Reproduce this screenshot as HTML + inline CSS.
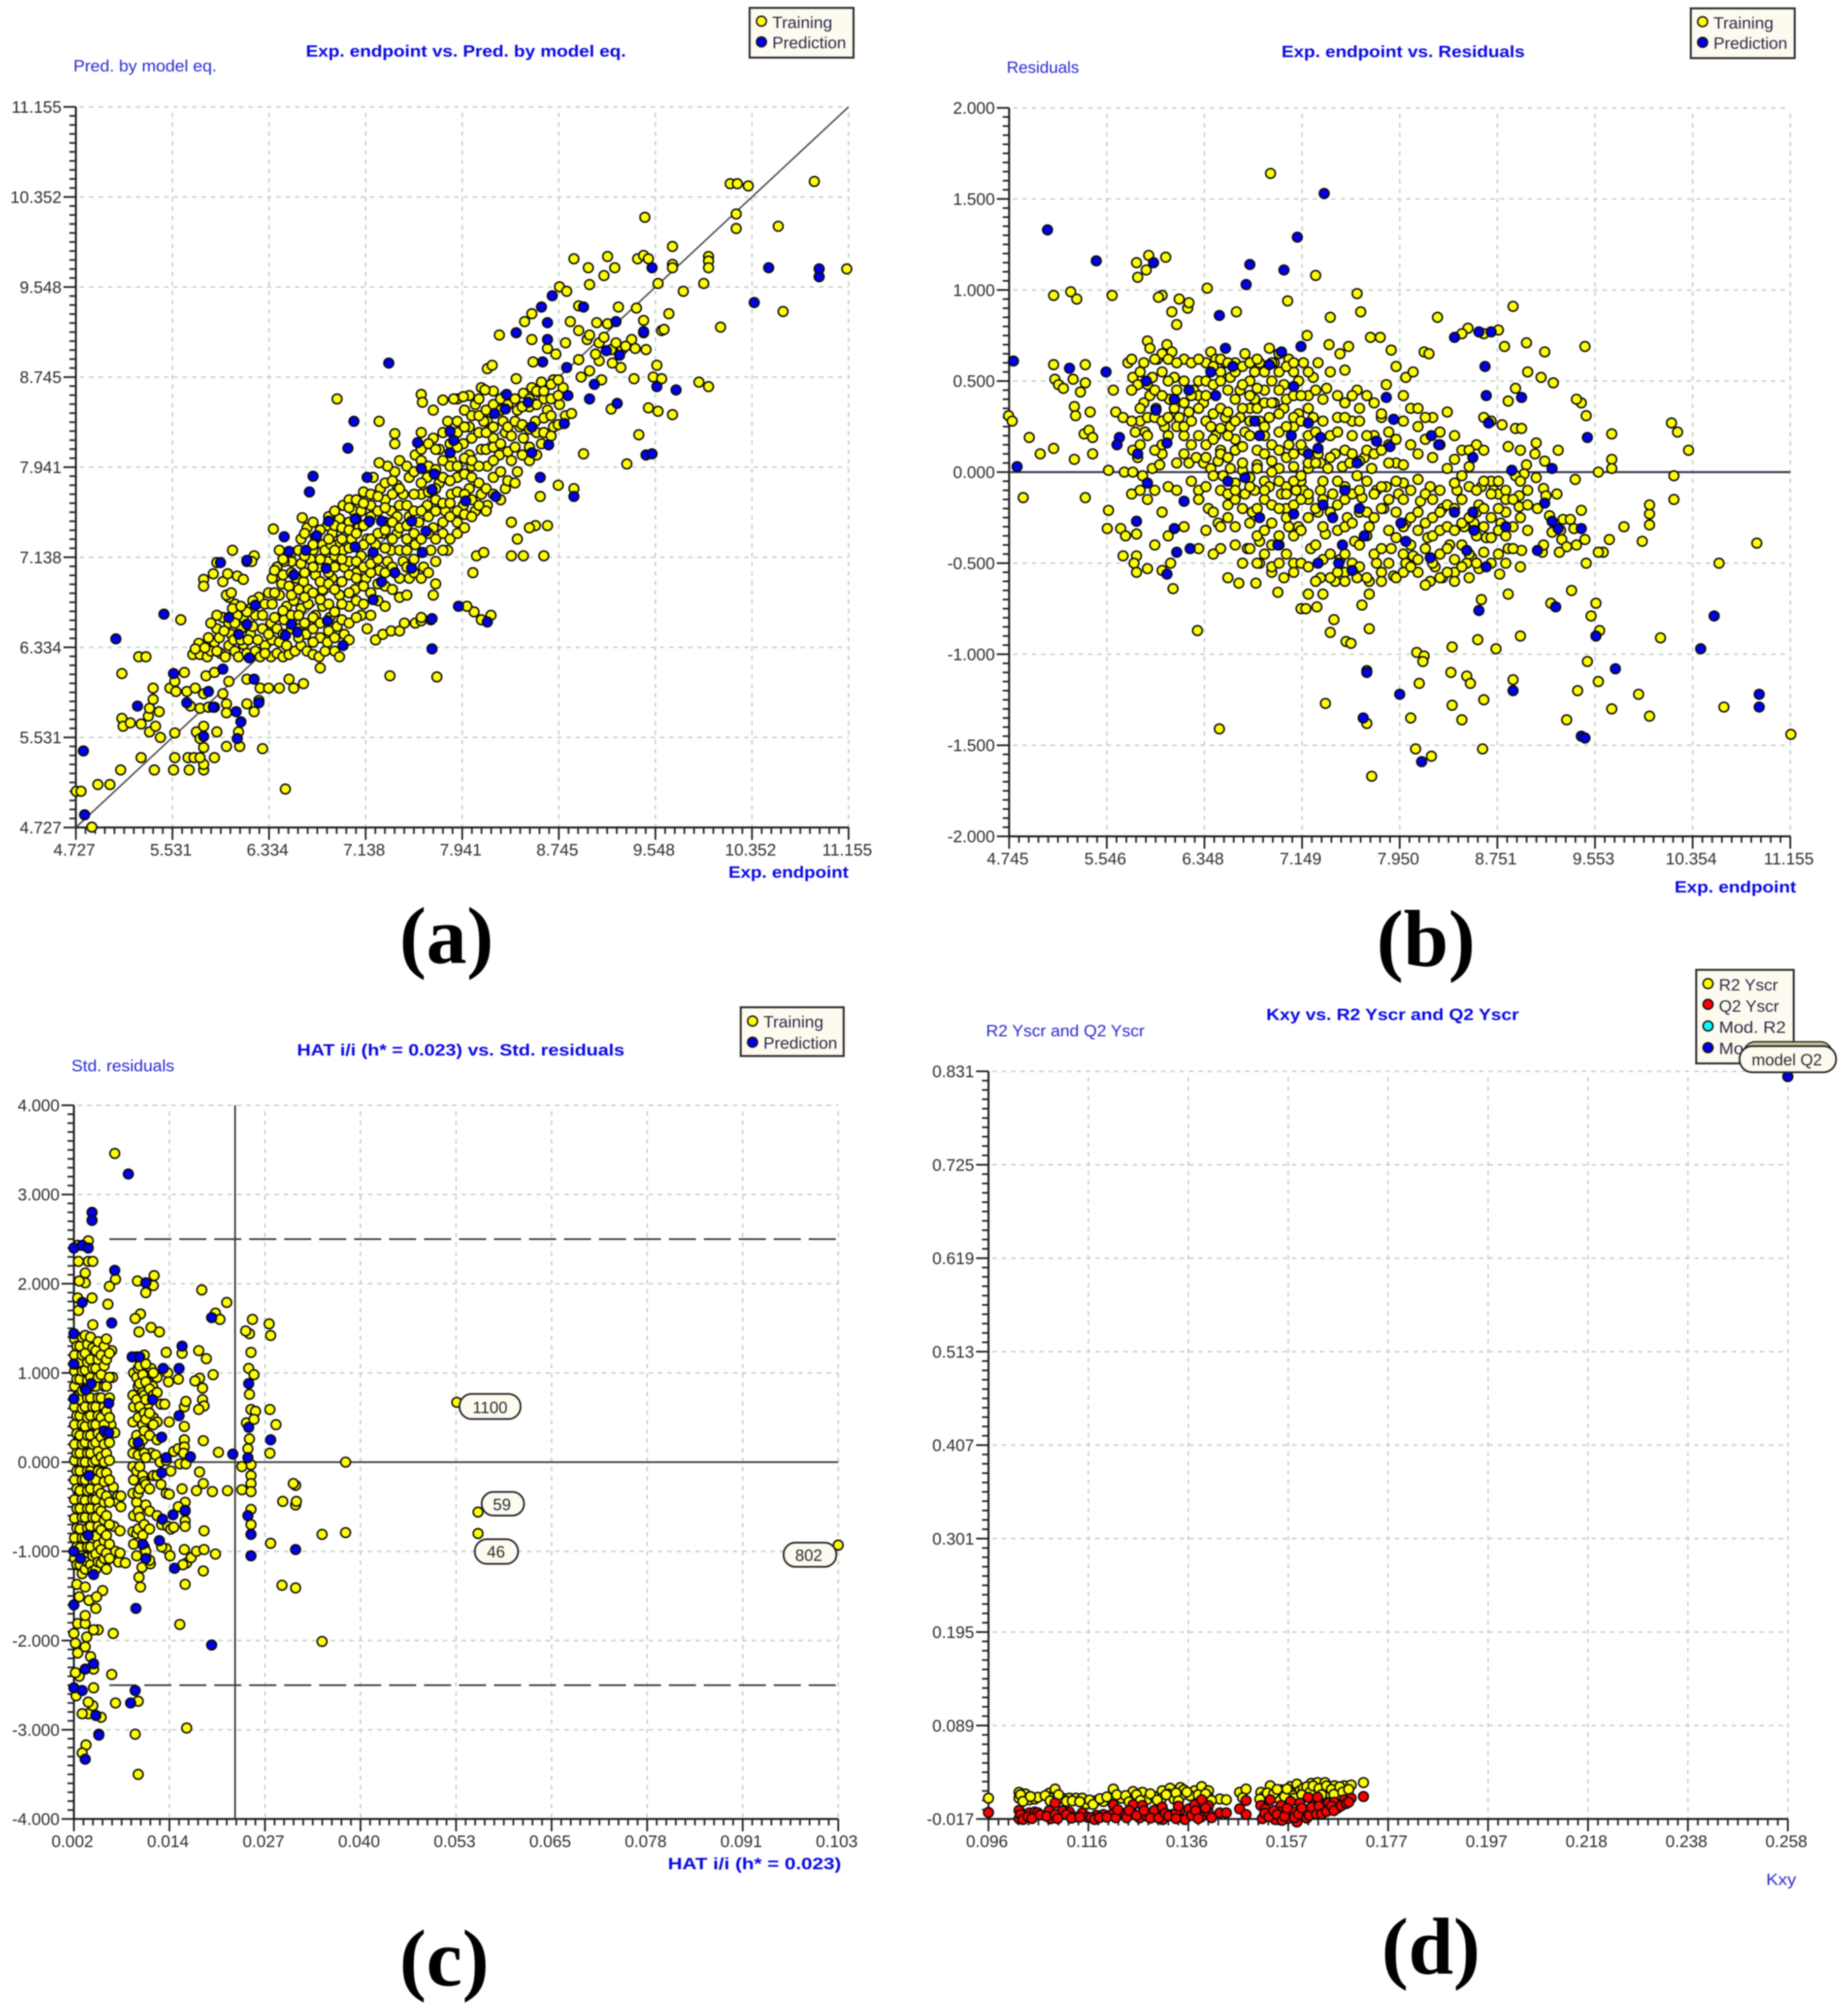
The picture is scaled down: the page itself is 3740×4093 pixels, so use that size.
<!DOCTYPE html>
<html lang="en">
<head>
<meta charset="utf-8">
<title>QSAR model validation plots</title>
<style>
html,body{margin:0;padding:0;background:#fff;}
#figure{display:block;filter:blur(1.1px);}
text{font-family:"Liberation Sans",sans-serif;}
.t{font-weight:bold;fill:#0a0ae0;font-size:33px;}
.y{fill:#2a2ad0;font-size:33px;}
.l{fill:#2a2a44;font-size:33px;}
.c{fill:#2a2a30;font-size:33px;text-anchor:middle;}
.p{font-family:"Liberation Serif",serif;font-weight:bold;font-size:164px;fill:#000;}
.box{fill:#fdfaf0;stroke:#2c2c2c;stroke-width:4;}
.pill{fill:#fdfaf0;stroke:#222;stroke-width:3.5;}
.k{stroke:#111;stroke-width:3;}
</style>
</head>
<body>
<svg id="figure" xmlns="http://www.w3.org/2000/svg" width="3740" height="4093" viewBox="0 0 3740 4093">
<rect x="0" y="0" width="3740" height="4093" fill="#fff"/>
<g id="charts"></g>

<g>
<text class="y" x="149" y="145" textLength="291" lengthAdjust="spacingAndGlyphs">Pred. by model eq.</text>
<text class="t" x="621" y="115" textLength="650" lengthAdjust="spacingAndGlyphs">Exp. endpoint vs. Pred. by model eq.</text>
<text class="t" x="1479" y="1782" textLength="244" lengthAdjust="spacingAndGlyphs">Exp. endpoint</text>
<text class="p" x="811" y="1955">(a)</text>
</g>
<g>
<rect class="box" x="1522" y="16" width="211" height="101"/>
<circle class="k" cx="1546" cy="43" r="10" fill="#ffff00"/>
<circle class="k" cx="1546" cy="85" r="10" fill="#0000ee"/>
<text class="l" x="1568" y="57" textLength="122" lengthAdjust="spacingAndGlyphs">Training</text>
<text class="l" x="1568" y="98" textLength="150" lengthAdjust="spacingAndGlyphs">Prediction</text>
</g>

<g>
<text class="y" x="2044" y="148" textLength="147" lengthAdjust="spacingAndGlyphs">Residuals</text>
<text class="t" x="2602" y="116" textLength="494" lengthAdjust="spacingAndGlyphs">Exp. endpoint vs. Residuals</text>
<text class="t" x="3400" y="1812" textLength="247" lengthAdjust="spacingAndGlyphs">Exp. endpoint</text>
<text class="p" x="2795" y="1961">(b)</text>
</g>
<g>
<rect class="box" x="3433" y="17" width="211" height="101"/>
<circle class="k" cx="3457" cy="44" r="10" fill="#ffff00"/>
<circle class="k" cx="3457" cy="86" r="10" fill="#0000ee"/>
<text class="l" x="3479" y="58" textLength="122" lengthAdjust="spacingAndGlyphs">Training</text>
<text class="l" x="3479" y="99" textLength="150" lengthAdjust="spacingAndGlyphs">Prediction</text>
</g>

<g>
<text class="y" x="145" y="2175" textLength="209" lengthAdjust="spacingAndGlyphs">Std. residuals</text>
<text class="t" x="603" y="2143" textLength="665" lengthAdjust="spacingAndGlyphs">HAT i/i (h* = 0.023) vs. Std. residuals</text>
<text class="t" x="1356" y="3795" textLength="352" lengthAdjust="spacingAndGlyphs">HAT i/i (h* = 0.023)</text>
<text class="p" x="811" y="4031">(c)</text>
</g>
<g>
<rect class="box" x="1504" y="2045" width="209" height="99"/>
<circle class="k" cx="1528" cy="2073" r="10" fill="#ffff00"/>
<circle class="k" cx="1528" cy="2116" r="10" fill="#0000ee"/>
<text class="l" x="1550" y="2086" textLength="122" lengthAdjust="spacingAndGlyphs">Training</text>
<text class="l" x="1550" y="2129" textLength="150" lengthAdjust="spacingAndGlyphs">Prediction</text>
</g>
<g>
<rect class="pill" x="933" y="2830" width="124" height="51" rx="25"/>
<text class="c" x="995" y="2869">1100</text>
<rect class="pill" x="978" y="3029" width="86" height="48" rx="24"/>
<text class="c" x="1019" y="3066">59</text>
<rect class="pill" x="964" y="3125" width="88" height="50" rx="25"/>
<text class="c" x="1007" y="3162">46</text>
<rect class="pill" x="1591" y="3132" width="107" height="49" rx="24"/>
<text class="c" x="1642" y="3169">802</text>
</g>

<g>
<text class="y" x="2002" y="2104" textLength="322" lengthAdjust="spacingAndGlyphs">R2 Yscr and Q2 Yscr</text>
<text class="t" x="2571" y="2071" textLength="513" lengthAdjust="spacingAndGlyphs">Kxy vs. R2 Yscr and Q2 Yscr</text>
<text class="y" x="3586" y="3827" textLength="61" lengthAdjust="spacingAndGlyphs">Kxy</text>
<text class="p" x="2805" y="4007">(d)</text>
</g>
<g>
<rect class="box" x="3444" y="1969" width="198" height="190"/>
<circle class="k" cx="3468" cy="1997" r="10" fill="#ffff00"/>
<circle class="k" cx="3468" cy="2039" r="10" fill="#ff0000"/>
<circle class="k" cx="3468" cy="2083" r="10" fill="#00ffff"/>
<circle class="k" cx="3468" cy="2127" r="10" fill="#0000ee"/>
<text class="l" x="3490" y="2011" textLength="120" lengthAdjust="spacingAndGlyphs">R2 Yscr</text>
<text class="l" x="3490" y="2054" textLength="122" lengthAdjust="spacingAndGlyphs">Q2 Yscr</text>
<text class="l" x="3490" y="2097" textLength="136" lengthAdjust="spacingAndGlyphs">Mod. R2</text>
<text class="l" x="3490" y="2140" textLength="138" lengthAdjust="spacingAndGlyphs">Mod. Q2</text>
</g>
<g>
<rect x="3540" y="2115" width="180" height="50" rx="24" fill="#c9c090" stroke="#333" stroke-width="3"/>
<rect class="pill" x="3532" y="2124" width="196" height="53" rx="26"/>
<text class="c" x="3628" y="2163">model Q2</text>
</g>
</svg>

<script>
/* ---------- panel (a) : experimental vs predicted ---------- */
const xTicksA = ['4.727','5.531','6.334','7.138','7.941','8.745','9.548','10.352','11.155'];
const yTicksA = ['4.727','5.531','6.334','7.138','7.941','8.745','9.548','10.352','11.155'];
const trainingA = [
[10.17,10.47],[10.23,10.47],[10.32,10.45],[10.87,10.49],[10.22,10.2],[10.22,10.07],[10.57,10.09],[9.46,10.17],[9.69,9.91],[8.87,9.8],[9.15,9.82],[9.4,9.8],[9.45,9.83],[9.49,9.8],[9.69,9.75],[9.69,9.72],[9.99,9.82],[9.99,9.78],[9.99,9.72],[8.99,9.72],[9.21,9.72],[9.12,9.65],[11.14,9.71],[9,9.57],[9.57,9.58],[9.78,9.51],[9.95,9.58],[8.75,9.55],[8.81,9.51],[8.91,9.38],[9.24,9.37],[9.39,9.36],[10.61,9.33],[9.66,9.31],[9.45,9.25],[8.84,9.24],[8.52,9.31],[8.46,9.24],[10.09,9.19],[9.6,9.16],[9.62,9.17],[8.25,9.12],[8.52,9.08],
[8.91,9.16],[8.98,9.08],[9.06,9.23],[9.15,9.22],[9,9.12],[9.08,9.05],[9.18,8.99],[9.27,8.99],[9.35,9.08],[9.45,9.14],[9.47,8.99],[9.26,8.83],[9.19,8.87],[9.08,8.89],[8.91,8.9],[9,8.8],[8.93,8.745],[9.1,8.72],[9.37,8.73],[9.56,8.85],[9.53,8.745],[9.6,8.73],[9.91,8.7],[9.99,8.66],[9.49,8.47],[9.57,8.44],[9.69,8.41],[9.18,8.46],[9.41,8.23],[9.31,7.97],[8.95,8.06],[8.87,7.75],[8.74,7.78],[8.59,7.68],[8.65,9],[8.72,8.95],[8.8,9.05],[9.05,8.95],[9.12,9.1],[9.22,9.05],[9.3,9.02],[9.38,9],
[4.73,5.05],[4.77,5.05],[4.91,5.11],[5.01,5.11],[5.1,5.24],[4.86,4.73],[5.27,5.35],[5.38,5.24],[5.54,5.24],[5.55,5.35],[5.66,5.35],[5.71,5.35],[5.67,5.24],[5.79,5.24],[5.79,5.29],[5.76,5.35],[5.88,5.35],[6.28,5.43],[6.47,5.07],[5.79,5.44],[5.98,5.45],[6.09,5.45],[5.55,5.57],[5.11,5.7],[5.12,5.63],[5.18,5.66],[5.27,5.65],[5.34,5.58],[5.43,5.53],[5.39,5.63],[5.33,5.72],[5.42,5.76],[5.34,5.79],[5.37,5.87],[5.37,5.97],[5.11,6.1],[5.25,6.25],[5.31,6.25],[5.6,6.58],[5.51,5.97],[5.63,6.11],[5.55,6.03],[5.56,5.94],[5.65,5.94],[5.72,5.97],[5.68,5.81],[5.76,5.79],[5.83,5.8],[5.79,5.92],[5.81,6.08],[5.88,6.11],[6,6.03],[5.95,5.92],[5.98,5.83],[5.88,5.8],[5.98,5.75],[5.73,5.58],[5.79,5.63],[5.9,5.58],[5.76,5.52],[6.08,5.58],[6.15,5.83],[6.21,5.76],[6.25,5.86],[6.15,6.05],[6.26,5.97],[6.33,5.97],[6.42,5.97],[6.5,6.05],[6.54,5.97],[6.62,6.01],[6.76,6.15],[7.34,6.08],[7.73,6.07],
[5.79,6.94],[5.79,6.88],[5.87,6.99],[5.95,6.92],[5.99,6.99],[6.07,6.97],[6.12,6.94],[5.9,7.09],[6.03,7.2],[6.15,7.1],[6.21,7.15],[6.19,7.1],[6.37,7.39],[6.61,7.49],
[5.7,6.27],[5.76,6.27],[5.82,6.25],[5.85,6.3],[5.88,6.38],[5.93,6.28],[5.97,6.25],[6,6.35],[6.02,6.45],[5.9,6.5],[5.85,6.55],[5.95,6.6],[6,6.55],[6.05,6.3],[6.08,6.25],[6.12,6.36],[6.15,6.28],[6.1,6.5],[6.12,6.6],[6.18,6.45],[6.22,6.3],[6.26,6.25],[6.3,6.35],[6.28,6.5],[6.22,6.62],[6.18,6.68],[6.05,6.72],[6,6.78],[5.98,6.8],[6.02,6.82],[6.15,6.65],[6.25,6.78],[6.3,6.72],[5.83,6.42],[5.75,6.37],
[6.35,6.25],[6.4,6.28],[6.45,6.25],[6.5,6.27],[6.36,6.4],[6.42,6.38],[6.48,6.35],[6.55,6.3],[6.6,6.35],[6.65,6.3],[6.7,6.27],[6.75,6.25],[6.8,6.3],[6.35,6.55],[6.4,6.5],[6.46,6.58],[6.52,6.62],[6.58,6.5],[6.64,6.45],[6.7,6.5],[6.76,6.42],[6.82,6.38],[6.88,6.3],[6.92,6.25],
[6.36,6.72],[6.42,6.8],[6.48,6.7],[6.54,6.75],[6.6,6.68],[6.66,6.72],[6.72,6.62],[6.78,6.7],[6.84,6.6],[6.9,6.52],[6.96,6.45],[7,6.4],
[6.36,6.95],[6.4,7.05],[6.44,6.9],[6.5,6.88],[6.56,6.95],[6.6,7.08],[6.66,6.85],[6.7,7.2],[6.72,6.98],[6.78,6.85],[6.82,7.1],[6.86,6.95],[6.9,7.25],[6.92,6.8],[6.96,7.05],[7,6.7],[7.05,6.85],[7.1,6.62],[7.15,6.5],[7.22,6.4],[7.28,6.45],[7.35,6.48],[7.42,6.48],[7.46,6.55],[7.55,6.55],[7.6,6.57],
[6.6,7.3],[6.65,7.4],[6.72,7.32],[6.78,7.25],[6.82,7.42],[6.86,7.35],[6.92,7.48],[6.95,7.6],[7,7.65],[7.04,7.55],[7.08,7.4],[7.12,7.72],[7.18,7.6],[7.2,7.85],[7.26,7.75],[7.3,7.65],[7.35,7.55],[7.38,7.9],[7.32,7.95],[7.25,7.98],[7.15,7.3],[7.2,7.15],[7.25,7.02],[7.3,6.88],[7.35,7.2],[7.4,7.35],[7.45,7.1],[7.5,6.95],[7.55,7.25],[7.5,7.5],[7.45,7.7],[7.5,7.85],[7.42,8],[7.38,8.15],[7.55,8.05],[7.6,8.25],[7.65,7.6],[7.7,7.4],[7.62,7.05],[7.68,7.2],[7.72,6.9],[7.7,6.8],
[7.75,7.8],[7.8,7.55],[7.85,7.7],[7.9,7.45],[7.75,8.1],[7.85,8],[7.9,7.85],[7.95,8.15],[7.95,7.6],[8,7.75],[8.05,7.55],[8.1,7.7],[8.15,7.95],[8,8.3],[8.05,8.5],[8.1,8.1],[8.15,7.6],[8.2,7.85],[8.25,8.05],[8.3,7.75],[8.2,8.2],[8.3,8.25],[8.35,8],[8.4,7.9],[8.45,8.2],[8.5,8],[8.55,8.35],[8.6,8.15],[8.65,8.45],[8.7,8.3],[8.75,8.5],[8.8,8.4],[8.85,8.42],[8.4,8.45],[8.45,8.6],[8.52,8.65],[8.6,8.7],[8.7,8.72],[8.78,8.65],[8.3,8.58],[8.2,8.62],[8.1,8.65],[8,8.58],[7.9,8.55],[8.28,8.35],[8.15,8.35],[8.35,8.22],[8.5,8.48],[8.62,8.55],[8.42,8.3],
[7.6,8.59],[7.61,8.52],[7.78,8.54],[7.87,8.55],[7.95,8.57],[8.13,8.63],[6.9,8.55],[7.25,8.35],[7.38,8.24],[8.15,8.82],[8.19,8.85],[8.39,8.73],[8.53,8.88],[7.7,8.45],[7.82,8.35],[7.6,8],[7.7,8.2],[7.9,8.25],[8,8.05],[8.02,7.95],[8.12,8.35],
[8.35,7.45],[8.55,7.42],[8.65,7.42],[8.4,7.3],[8.5,7.4],[8.35,7.15],[8.45,7.15],[8.62,7.15],[8.06,7.15],[8.12,7.18],[8.03,7],[8.04,6.65],[8.1,6.58],[7.98,6.7],[8.18,6.62],[7.68,6.58],[7.6,6.6],
[6.75,7.05],[6.8,7.2],[6.85,7.25],[6.88,7.15],[6.95,7.2],[7,7.1],[7.02,7.3],[7.06,7],[7.1,7.15],[7.14,6.95],[7.18,7],[7.22,7.25],[7.28,7.35],[7.32,7.1],[7.4,7.5],[7.42,6.95],[7.48,7.3],[7.58,7.45],[7.6,7.7],[7.65,7.85],[7.72,7.65],[7.78,7.35],[7.82,7.2],[7.4,7.78],[6.62,6.92],[6.68,7.12],[6.52,7.1],[6.46,7.1],[6.42,7.2],[7,7.45],[7.1,7.55],[7.16,7.45],[7.3,7.45],
[5.72,6.32],[5.8,6.33],[5.9,6.3],[5.92,6.42],[5.96,6.48],[6.04,6.4],[6.1,6.4],[6.16,6.4],[6.2,6.52],[6.24,6.4],[6.3,6.28],[6.33,6.45],[6.07,6.62],[6.03,6.68],[6.1,6.7],[5.9,6.62],[6.2,6.75],[6.28,6.62],[6.33,6.82],[6.05,6.55]
];
/* dense band, one row per experimental value: [x, y, y, y, ...] */
const trainingABand = [
[6.38,6.6,6.82,7.02],[6.45,6.45,6.66,6.98,7.12],[6.52,6.5,6.8,7,7.18],[6.58,6.42,6.62,6.85,7.2],[6.63,6.55,6.78,7,7.15,7.35],[6.7,6.38,6.6,6.82,7.05,7.25,7.45],[6.76,6.55,6.76,6.92,7.12,7.38],[6.83,6.48,6.72,6.9,7,7.3,7.5],[6.88,6.42,6.65,6.85,7.05,7.2,7.42,7.55],[6.94,6.58,6.72,6.92,7.12,7.3,7.4],[7,6.55,6.82,6.98,7.22,7.38,7.58],[7.06,6.6,6.75,6.95,7.1,7.35,7.48,7.65],[7.12,6.72,6.88,7.05,7.25,7.42,7.62],[7.18,6.62,6.82,7.08,7.3,7.5,7.7],[7.24,6.75,6.9,7.12,7.35,7.55,7.68],[7.3,6.7,7,7.22,7.38,7.58,7.8],[7.36,6.85,7.05,7.3,7.45,7.7,7.82],[7.42,6.78,7.2,7.4,7.6,7.75],[7.48,6.8,7.05,7.2,7.42,7.6,7.95],[7.54,7,7.12,7.35,7.55,7.7,7.9],[7.6,6.95,7.3,7.55,7.8,8.1],[7.66,7,7.35,7.5,7.72,7.95,8.15],[7.72,7.1,7.3,7.55,7.75,7.92,8.1],[7.78,7.2,7.45,7.62,7.85,8,8.25],[7.84,7.3,7.5,7.62,7.82,7.95,8.15],[7.9,7.35,7.55,7.72,7.95,8.12,8.35],[7.96,7.4,7.52,7.7,7.88,8.02,8.3,8.45],[8.02,7.5,7.65,7.85,8,8.2,8.4],[8.08,7.6,7.8,7.95,8.25,8.4,8.55],[8.14,7.55,7.75,8.1,8.25,8.45],[8.2,7.7,8,8.12,8.3,8.5],[8.26,7.65,7.9,8.15,8.45,8.55],[8.32,7.82,8.08,8.3,8.5],[8.38,7.8,8.12,8.35,8.55],[8.44,8.05,8.32,8.48],[8.5,8.12,8.28,8.55],[8.56,8.05,8.25,8.5,8.62],[8.62,8.25,8.38,8.62],[8.68,8.22,8.4,8.55,8.68],[8.74,8.32,8.58,8.72]
];
const predictionA = [
[4.79,5.41],[4.8,4.84],[5.06,6.41],[5.46,6.63],[7.33,8.87],[7.04,8.35],[6.99,8.11],[6.7,7.86],[6.67,7.72],[6.46,7.32],[5.93,7.09],[6.15,7.11],[5.24,5.81],[5.54,6.1],[5.65,5.84],[5.83,5.94],[5.87,5.8],[6.06,5.76],[6.1,5.67],[6.07,5.52],[6.21,6.05],[6.25,5.84],[5.79,5.54],[6.17,6.24],[5.95,6.14],[6,6.6],[6.08,6.45],[6.15,6.54],[6.22,6.71],[6.47,6.44],[6.52,6.54],[6.57,6.47],[6.95,6.35],[6.82,6.57],[7.69,6.32],[7.69,6.59],[7.91,6.7],[8.15,6.56],[8.87,7.68],[8.59,7.85],[9.23,8.51],[9,8.55],[9.04,8.68],[9.56,8.66],[9.72,8.63],[9.47,8.05],[9.52,8.06],[10.37,9.41],[10.49,9.72],[10.91,9.71],[10.91,9.64],[9.52,9.72],[9.22,9.24],[9.45,9.15],[9.25,8.94],[9.14,8.98],[8.81,8.83],[8.61,8.88],[8.39,9.14],[8.65,9.23],[8.6,9.37],[8.69,9.47],[8.95,9.37],[8.65,9.08],
[8.31,8.59],[8.49,8.52],[8.3,8.46],[8.21,8.42],[8.82,8.58],[8.79,8.33],[8.52,8.3],[8.66,8.14],[8.52,8.07],[7.84,8.26],[7.87,8.18],[7.57,8.16],[7.84,8.07],[7.6,7.93],[7.71,7.88],[7.15,7.85],[7.69,7.74],[7.97,7.64],[8.22,7.68],[7.52,7.46],[7.64,7.37],[7.05,7.48],[7.17,7.46],[7.27,7.46],[6.83,7.46],[6.73,7.33],[6.64,7.2],[6.5,7.19],[7.05,7.23],[7.2,7.18],[7.61,7.18],[7.52,7.04],[7.38,7],[7.27,6.92],[7.2,6.76],[6.81,7.04],[6.54,6.98]
];

/* ---------- panel (b) : experimental vs residuals ---------- */
const xTicksB = ['4.745','5.546','6.348','7.149','7.950','8.751','9.553','10.354','11.155'];
const yTicksB = ['-2.000','-1.500','-1.000','-0.500','0.000','0.500','1.000','1.500','2.000'];
const trainingB = [
[6.89,1.64],[7.26,1.08],[7.6,.98],[7.63,.88],[7.38,.85],[7.03,.94],[6.61,.88],[6.37,1.01],[6.21,.9],[6.14,.95],[6.22,.93],[6.08,.88],[6.12,.81],[6,.97],[5.97,.96],[6.03,1.18],[5.89,1.19],[5.87,1.11],[5.8,1.07],[5.79,1.15],[5.59,.97],[5.25,.99],[5.3,.95],[5.11,.97],[4.74,.31],[4.77,.28],[4.91,.19],[5,.1],[5.11,.13],[4.86,-.14],[5.11,.59],[5.12,.51],[5.15,.48],[5.19,.46],[5.27,.51],[5.33,.44],[5.37,.59],[5.37,.49],[5.28,.36],[5.29,.31],[5.41,.33],[5.36,.21],[5.4,.23],[5.43,.19],[5.43,.1],[5.28,.07],[5.37,-.14],[5.56,.01],[5.69,0],[5.56,-.21],[5.55,-.31],[5.66,-.31],[5.7,-.35],[5.79,-.34],[5.68,-.46],[5.79,-.46],[5.77,-.5],[5.79,-.55],[5.88,-.53],[6,-.54],[6.07,-.5],[6.09,-.64],[6.29,-.87],[6.47,-1.41],[6.54,-.58],[6.63,-.61],[6.77,-.61],[6.95,-.66],[7.2,-.67],[7.14,-.75],[7.18,-.75],[7.27,-.74],[7.32,-.67],[7.41,-.81],[7.38,-.88],[7.51,-.93],[7.55,-.94],[7.64,-.73],[7.7,-.67],[7.7,-.86],[7.34,-1.27],[7.68,-1.09],[7.68,-1.38],[7.72,-1.67],[8.04,-1.35],[8.08,-1.52],[8.21,-1.56],[8.11,-1.16],[8.09,-.99],[8.15,-1.01],[8.14,-1.04],[8.38,-.96],[8.37,-1.1],[8.5,-1.12],[8.53,-1.16],[8.38,-1.28],[8.46,-1.36],[8.59,-.92],[8.74,-.97],[8.62,-.7],[8.84,-.67],[8.88,-1.14],[8.64,-1.25],[8.63,-1.52],[8.94,-.9],[9.19,-.72],[9.36,-.65],[9.56,-.72],[9.52,-.79],[9.59,-.87],[9.49,-1.04],[9.58,-1.15],[9.41,-1.2],[9.32,-1.36],[9.69,-1.3],[9.91,-1.22],[10,-1.34],[10.09,-.91],[10.61,-1.29],[11.16,-1.44],[10.57,-.5],[10.88,-.39],[9.94,-.38],[10,-.29],[10,-.23],[10,-.18],[9.79,-.3],[9.67,-.37],[9.62,-.44],[9.58,-.44],[10.2,-.15],[10.2,-.02],[10.32,.12],[10.23,.22],[10.18,.27],[9.69,.21],[9.69,.07],[9.69,.02],[9.58,0],[9.48,.31],[9.44,.38],[9.4,.4],[9.47,.69],[9.14,.66],[8.99,.71],[8.88,.91],[8.81,.69],[8.76,.78],[8.64,.76],[8.51,.79],[8.46,.76],[8.26,.85],[8.15,.66],[8.19,.65],[7.88,.67],[7.79,.74],[7.71,.74],[7.53,.69],[7.46,.65],[7.37,.7],[7.19,.75],[9,.55],[9.11,.52],[9.21,.49],[8.9,.46],[8.84,.39],[8.9,.24],[8.95,.24],[8.79,.26],[9.07,.16],[9.25,.12],[8.94,.12],[9.06,.1],[8.84,.14],[8.99,.04],[9.14,.06],[8.97,-.01],[8.9,-.02],[9.07,-.03],[9.39,-.04],[9.13,-.09],[9.24,-.12],[9.15,-.13],[8.93,-.13],[8.93,-.19],[9.44,-.21],[9.18,-.24],[9.08,-.2],[9.29,-.26],[9.35,-.26],[9.38,-.31],[9.27,-.32],[9.2,-.33],[9.28,-.37],[9.32,-.41],[9.4,-.4],[9.47,-.37],[9.48,-.5],[9.26,-.44],[9.12,-.44],[9.13,-.4],[8.95,-.43],[8.94,-.52],[8.77,-.56],[8.6,-.53],
[5.6,.45],[5.62,.33],[5.68,.3],[5.72,.6],[5.76,.52],[5.8,.48],[5.75,.62],[5.85,.6],[5.88,.72],[5.9,.68],[5.92,.52],[5.96,.62],[6,.65],[6.04,.7],[6.08,.66],[6.1,.52],[5.85,.38],[5.9,.42],[5.95,.35],[5.82,.28],[5.86,.22],[5.78,.22],[5.76,.12],[5.8,.08],[5.76,0],[5.84,-.02],[5.92,.02],[5.98,.04],[6,.1],[6.02,.25],[6.06,.4],[6.1,.35],[6.14,.3],[6.18,.2],[6.22,.33],[6.26,.45],[6.3,.42],[6.34,.38],[6.18,.62],[6.36,.6],[6.4,.66],[6.44,.62],[6.48,.55],[6.52,.6],[6.56,.52],[6.6,.6],[6.64,.45],[6.68,.65],[6.72,.5],[6.76,.55],[6.8,.6],[6.84,.45],[6.88,.68],[6.92,.6],[6.96,.55],[7,.48],[7.04,.62],[7.08,.55],[7.12,.5],[7.16,.6],[7.2,.42],[7.24,.52],[7.28,.6],[6.36,.28],[6.4,.25],[6.44,.2],[6.48,.12],[6.52,.3],[6.56,.25],[6.6,.18],[6.64,.3],[6.68,.22],[6.72,.35],[6.76,.4],[6.8,.28],[6.84,.2],[6.88,.3],[6.92,.38],[6.96,.22],[7,.35],[7.04,.15],[7.08,.25],[7.12,.32],[7.16,.12],[7.2,.2],[7.24,.3],[7.28,.1],[6.22,.05],[6.28,.08],[6.34,.05],[6.4,.02],[6.46,.06],[6.5,-.02],[6.56,.02],[6.6,-.06],[6.66,.01],[6.72,-.03],[6.78,.04],[6.84,-.05],[6.9,.06],[6.96,.02],[7.02,-.08],[7.08,.03],[7.14,-.05],[7.2,.02],[7.3,.05],[7.36,.02],[7.42,.1],[7.48,.03],[7.54,.05],[7.6,-.02],[7.66,.08],[7.72,.02],[7.44,.3],[7.5,.38],[7.56,.28],[7.62,.35],[7.68,.42],[7.74,.2],[7.8,.3],[7.86,.15],[7.92,.05],[7.98,.42],[8.04,.35],[8.1,.25],[8.16,.18],[8.22,.3],[8.28,.15],[8.34,.33],[8.4,.07],[8.46,.12],[8.52,.03],[8.58,.15],[8.64,.3],[8.7,.28],[8,.52],[8.06,.55],[7.92,.58],[7.84,.48],[7.6,.45],[7.5,.56],[7.35,.46],
[6.3,-.1],[6.38,-.2],[6.46,-.28],[6.54,-.18],[6.6,-.3],[6.68,-.12],[6.74,-.22],[6.8,-.38],[6.84,-.15],[6.9,-.28],[6.96,-.4],[7.02,-.2],[7.08,-.5],[7.12,-.3],[7.16,-.1],[7.22,-.42],[7.28,-.22],[7.34,-.34],[7.4,-.12],[7.46,-.48],[7.52,-.25],[7.58,-.38],[7.64,-.14],[7.7,-.3],[7.76,-.5],[7.82,-.2],[7.88,-.42],[7.94,-.12],[8,-.28],[8.06,-.46],[8.12,-.16],[8.18,-.36],[8.24,-.52],[8.3,-.2],[8.36,-.4],[8.42,-.1],[8.48,-.3],[8.54,-.47],[8.6,-.18],[8.66,-.36],[8.72,-.1],[8.78,-.28],[8.84,-.42],[6.7,-.42],[6.8,-.5],[6.9,-.55],[7,-.58],[7.1,-.1],[7.3,-.58],[7.42,-.6],[7.5,-.55],[7.6,-.58],[7.7,-.6],[7.8,-.55],[7.9,-.57],[8,-.5],[8.1,-.55],[8.2,-.6],[8.3,-.58],[8.4,-.55],[8.5,-.5],[8.56,-.28],[8.62,-.08],[8.7,-.05],[8.76,-.12],[8.82,-.22],[8.2,-.08],[8.1,-.04],[7.98,-.06],[7.84,-.08],[7.76,-.1],[7.5,-.08],[7.3,-.1],[7.2,-.15],[7.04,-.3],[6.98,-.12],[6.88,-.08],[6.76,-.1],[6.6,-.15],[6.48,-.42]
];
/* dense cloud, one row per experimental value: [x, y, y, y, ...] */
const trainingBCloud = [
[5.75,.45,.28,-.12],[5.82,.55,.35,.15,-.1],[5.88,.48,.3,.2,-.15],[5.94,.62,.45,.3,.12,-.1,-.4],[6,.55,.42,.28,.15,-.22],[6.05,.62,.5,.3,.2,-.08,-.35],[6.12,.6,.45,.25,.05,-.1],[6.18,.5,.38,.25,.1,-.3],[6.24,.6,.42,.28,.15,-.05],[6.3,.62,.5,.35,.2,-.15,-.42],[6.36,.5,.42,.15,.08,-.08,-.32],[6.42,.58,.48,.32,.18,-.02,-.22,-.45],[6.48,.62,.5,.35,.24,.1,-.1,-.3],[6.54,.6,.45,.33,.2,.08,-.12,-.25],[6.6,.55,.4,.28,.12,-.1,-.4],[6.66,.58,.48,.35,.14,.05,-.2,-.5],[6.72,.6,.42,.28,.2,-.08,-.28,-.42],[6.78,.62,.46,.35,.12,.02,-.2,-.35,-.5],[6.84,.55,.38,.25,.1,-.1,-.32,-.45],[6.9,.6,.5,.38,.15,0,-.18,-.4,-.52],[6.96,.65,.45,.32,.12,-.05,-.2,-.35,-.5],[7.02,.58,.4,.25,.08,-.12,-.25,-.45],[7.08,.6,.42,.3,.1,-.05,-.18,-.35,-.55],[7.14,.42,.28,.15,-.02,-.15,-.32,-.5],[7.2,.55,.35,.05,-.12,-.25,-.52],[7.26,.45,.22,.05,-.2,-.4,-.6],[7.32,.4,.28,-.05,-.15,-.3,-.48],[7.38,.55,.2,.08,-.22,-.45,-.58],[7.44,.42,.22,-.05,-.18,-.32,-.55],[7.5,.3,.12,-.15,-.3,-.45,-.6],[7.56,.42,.2,.1,-.12,-.28,-.5],[7.62,.28,.06,-.1,-.22,-.4,-.52],[7.68,.2,.12,-.05,-.22,-.35,-.58],[7.74,.38,.1,-.12,-.25,-.45],[7.8,.32,.12,-.08,-.2,-.42,-.6],[7.86,.22,.05,-.15,-.32,-.5],[7.92,.18,-.05,-.22,-.36,-.58],[7.98,.28,.04,-.15,-.3,-.45,-.55],[8.04,.15,-.1,-.25,-.4,-.52],[8.1,.35,.1,-.22,-.32,-.48],[8.16,.3,-.12,-.28,-.42,-.62],[8.22,.08,-.15,-.25,-.35,-.5],[8.28,.22,-.1,-.22,-.32,-.45,-.58],[8.34,.02,-.18,-.3,-.42,-.55],[8.4,.2,-.06,-.2,-.32,-.48,-.6],[8.46,-.02,-.15,-.28,-.4,-.52],[8.52,.12,-.08,-.25,-.45,-.58],[8.58,-.1,-.22,-.35,-.5],[8.64,.12,-.05,-.2,-.3,-.44],[8.7,-.12,-.25,-.36,-.5],[8.76,-.05,-.2,-.32,-.45],[8.82,-.1,-.15,-.35,-.5],[8.88,-.15,-.3,-.42],[8.94,-.05,-.25],[9,-.18,-.32,-.1]
];
const predictionB = [
[5.06,1.33],[5.46,1.16],[5.93,1.15],[6.72,1.14],[7.11,1.29],[7,1.11],[6.69,1.03],[7.33,1.53],[6.47,.86],[6.52,.68],[7.14,.69],[4.78,.61],[5.24,.57],[5.54,.55],[6.88,.59],[6.98,.66],[7.08,.47],[6.1,.4],[6.22,.45],[6.4,.55],[6.58,.58],[5.87,.5],[5.65,.19],[5.63,.15],[5.95,.34],[6.04,.16],[5.8,.1],[4.81,.03],[6.44,.42],[6.76,.28],[6.8,.2],[7.06,.2],[7.2,.27],[7.3,.19],[7.28,.13],[7.2,.1],[7.76,.17],[7.87,.14],[7.9,.29],[7.84,.41],[8.27,.15],[8.21,.2],[8.68,.27],[9.49,.19],[8.66,.42],[8.95,.41],[8.65,.58],[8.4,.74],[8.6,.77],[8.7,.77],[8.55,.08],[9.2,.02],[8.87,.01],[7.6,.05],[6.54,-.05],[6.68,-.03],[6.18,-.16],[5.88,-.06],[5.79,-.27],[6.1,-.31],[6.12,-.44],[6.04,-.56],[6.23,-.42],[6.95,-.4],[7.08,-.23],[6.8,-.25],[7.32,-.18],[7.4,-.25],[7.5,-.1],[7.62,-.2],[7.66,-.35],[7.48,-.4],[7.56,-.54],[7.28,-.5],[7.45,-.5],[7.96,-.28],[8,-.38],[8.2,-.47],[8.4,-.22],[8.55,-.22],[8.56,-.32],[8.5,-.43],[8.66,-.52],[8.82,-.3],[9.08,-.43],[9.2,-.27],[9.25,-.31],[9.44,-.31],[9.14,-.17],[8.6,-.76],[9.23,-.74],[9.56,-.9],[9.72,-1.08],[7.68,-1.1],[7.95,-1.22],[8.88,-1.2],[7.65,-1.35],[8.13,-1.59],[9.44,-1.45],[9.47,-1.46],[10.42,-.97],[10.53,-.79],[10.9,-1.22],[10.9,-1.29]
];

/* ---------- panel (c) : Williams plot ---------- */
const xTicksC = ['0.002','0.014','0.027','0.040','0.053','0.065','0.078','0.091','0.103'];
const yTicksC = ['-4.000','-3.000','-2.000','-1.000','0.000','1.000','2.000','3.000','4.000'];
const hatLimit = [0.0233];
const stdLimits = [2.5,-2.5];
const trainingC = [
[.0074,3.46],[.0105,-3.5],[.0101,-3.05],[.0169,-2.98],[.0036,-3.17],[.0031,-3.26],[.0075,-2.7],[.0105,-2.68],[.007,-2.38],[.0056,-2.86],[.0039,-2.82],[.0031,-2.82],[.0045,-2.73],[.0039,-2.69],[.0023,-2.62],[.0046,-2.53],[.0027,-2.4],[.0022,-2.36],[.0046,-2.32],[.0042,-2.18],[.0025,-2.14],[.0035,-2.07],[.0022,-2.03],[.002,-1.92],[.0037,-1.96],[.0052,-1.88],[.0072,-1.92],[.0025,-1.81],[.0035,-1.81],[.0035,-1.72],[.0046,-1.88],[.0049,-1.64],[.004,-1.55],[.0027,-1.51],[.0024,-1.37],[.0035,-1.4],[.0058,-1.44],[.005,-1.51],[.0031,-1.25],[.016,-1.82],[.0348,-2.01],[.0295,-1.38],[.0313,-1.41],[.0106,-1.29],[.0108,-1.4],[.011,-1.18],[.0121,-1.14],[.0191,-1.22],[.0167,-1.37],[.028,-.91],[.0348,-.81],[.0379,-.79],[.0554,-.8],[.0554,-.56],[.0526,.67],[.103,-.93],[.0379,0],[.0296,-.44],[.0313,-.48],[.0313,-.26],[.031,-.24],[.0314,-.44],[.0279,.59],[.0287,.42],[.0279,.1],[.028,1.42],[.0278,1.55],[.0256,1.6],[.0252,1.44],[.0247,1.47],[.0254,1.23],[.0251,1.05],[.0258,.98],[.0252,.76],[.0254,.59],[.026,.57],[.0248,.44],[.0258,.48],[.0252,.26],[.025,.15],[.0254,-.03],[.0242,-.05],[.0254,-.15],[.0254,-.24],[.0242,-.31],[.0254,-.33],[.0254,-.53],[.0254,-.7],[.0211,.11],[.0223,-.32],[.0203,-.33],[.0191,-.24],[.0182,-.32],[.0186,-.11],[.0191,.24],[.019,.7],[.0192,.63],[.0185,.59],[.019,.83],[.0186,.94],[.018,.91],[.0204,.98],[.0195,1.16],[.0185,1.25],[.0189,1.93],[.0222,1.79],[.0207,1.67],[.0213,1.6],[.0163,1.22],[.0142,1.23],[.0133,1.46],[.0122,1.51],[.0106,1.46],[.0108,1.66],[.0101,1.61],[.0104,2.03],[.0115,1.9],[.0125,1.98],[.0126,2.09],[.0075,2.05],[.0067,1.97],[.0065,1.77],[.0044,1.84],[.0039,2.25],[.0035,2.12],[.0035,2.01],[.0027,2.03],[.0025,1.84],[.0026,1.7],[.0039,2.48],[.0025,2.43],[.0026,2.25],[.0045,2.25],[.0045,1.54],
[.007,1.25],[.0071,.95],[.0069,.42],[.0074,.33],[.0072,-.28],[.0078,-.38],[.0078,-.45],[.0073,-.72],[.0075,-1],[.0082,-.38],[.0082,-.5],[.0062,-1.12],[.0079,-1.12],[.0088,-1.13],[.0081,-.77],[.0081,-1.02],
[.0118,.9],[.0122,1.05],[.0124,.85],[.013,.95],[.0118,.65],[.0125,.5],[.013,.45],[.0135,.65],[.014,.65],[.0144,1],[.0145,.9],[.0122,.1],[.0128,.08],[.0134,0],[.0142,.02],[.0148,-.1],[.0135,-.25],[.0142,-.35],[.0146,-.36],[.0136,-.7],[.0144,-.72],[.0148,-.75],[.0142,-.97],[.0147,-1.05],[.0136,-.95],[.0146,.45],[.0152,.12],[.0158,.15],[.016,-.02],[.0163,-.3],[.0166,.62],[.0168,.68],[.0166,.4],[.0166,.25],[.0166,.17],[.0165,.1],[.0168,-.02],[.0167,-.45],[.0167,-.55],[.0167,-.66],[.0167,-.72],[.0166,-.98],[.0169,-1.13],[.0158,.93],[.0164,-1.15],[.0175,-1.07],[.0182,-1],[.0192,-.98],[.0192,-.77],[.0207,-1.03],[.0158,-.5],[.0152,-.73]
];
/* dense columns, one row per leverage value: [h, y, y, y, ...] */
const trainingCColumns = [
[.0021,1.38,1.2,1.02,.85,.62,.42,.2,.02,-.2,-.42,-.63,-.85,-1.08],
[.0024,1.3,1.1,.93,.73,.52,.32,.1,-.1,-.3,-.52,-.74,-.95,-1.15],
[.0028,1.3,1.12,.93,.7,.52,.3,.1,-.1,-.32,-.52,-.75,-.96,-1.15],
[.0031,1.4,1.2,1.02,.8,.6,.42,.2,0,-.2,-.42,-.62,-.85,-1.05],
[.0035,1.42,1.22,1.03,.82,.62,.4,.22,0,-.2,-.43,-.62,-.85,-1.07,-1.2],
[.0038,1.32,1.12,.92,.72,.5,.3,.1,-.1,-.32,-.52,-.74,-.95,-1.12],
[.0042,1.4,1.15,.95,.72,.52,.3,.1,-.1,-.3,-.52,-.72,-.95,-1.15],
[.0045,1.28,1.05,.85,.62,.42,.2,0,-.2,-.42,-.62,-.85,-1.05,-1.22],
[.0049,1.25,1.05,.85,.62,.42,.22,.02,-.2,-.42,-.62,-.83,-1.03,-1.2],
[.0052,1.35,1.15,.95,.72,.52,.32,.12,-.1,-.3,-.52,-.72,-.93,-1.12],
[.0056,1.2,.98,.72,.5,.28,.06,-.12,-.35,-.55,-.76,-.98,-1.13],
[.006,1.3,1.08,.85,.62,.42,.2,0,-.22,-.45,-.65,-.88,-1.08],
[.0063,1.38,1.15,.85,.57,.32,.1,-.12,-.38,-.6,-.82,-1.02,-1.2],
[.0067,1.22,.95,.72,.5,.22,.02,-.2,-.45,-.7,-.92,-1.08],
[.0098,.75,.45,.1,-.05,-.35,-.78],
[.0099,1,.62,.22,-.2,-.6,-.92],
[.0103,1.18,.95,.7,.3,-.1,-.45,-.8,-1.05],
[.0105,1.05,.85,.5,.08,-.35,-.55,-.75],
[.0107,1.08,.88,.62,.2,-.05,-.3,-.62],
[.0111,.98,.78,.42,.25,-.15,-.82],
[.0113,1.2,.75,.55,.35,.1,-.22,-.7,-.95],
[.0115,1.1,.9,.7,.48,.05,-.25,-.48,-1],
[.012,.82,.55,.3,-.3,-.55,-.75,-1.1],
[.0125,1,.75,.42,-.15],
[.013,.78,.25,-.15,-.6]
];
const predictionC = [
[.0092,3.23],[.0044,2.8],[.0044,2.71],[.002,2.4],[.0031,2.43],[.0039,2.4],[.0074,2.15],[.0115,2.01],[.0031,1.79],[.007,1.56],[.0202,1.62],[.002,1.44],[.0163,1.3],[.0097,1.18],[.0107,1.18],[.0159,1.05],[.0138,1.05],[.002,1.1],[.0036,.81],[.0251,.88],[.0124,.7],[.002,.71],[.0066,.66],[.0159,.52],[.0251,.39],[.0136,.28],[.028,.25],[.006,.35],[.0105,.22],[.023,.09],[.0174,.06],[.0142,.05],[.025,.05],[.004,-.15],[.0136,-.12],[.0167,-.54],[.0151,-.59],[.0137,-.64],[.025,-.6],[.0254,-.81],[.0313,-.98],[.0133,-.88],[.0111,-.92],[.0153,-1.19],[.0254,-1.05],[.0115,-1.08],[.0039,-.82],[.0046,-1.26],[.0029,-1.08],[.002,-1],[.002,-1.6],[.0102,-1.64],[.0202,-2.05],[.0046,-2.26],[.0035,-2.32],[.002,-2.53],[.0031,-2.56],[.0101,-2.56],[.0095,-2.7],[.0049,-2.84],[.0053,-3.05],[.0053,-3.06],[.0035,-3.33],[.0043,.88],[.0066,.33]
];

/* ---------- panel (d) : Y-scrambling ---------- */
const xTicksD = ['0.096','0.116','0.136','0.157','0.177','0.197','0.218','0.238','0.258'];
const yTicksD = ['-0.017','0.089','0.195','0.301','0.407','0.513','0.619','0.725','0.831'];
const r2Yscr = [
[.096,.0066],[.1022,.0132],[.1022,.0066],[.1035,.0113],[.1043,.0048],[.1054,.0057],[.106,.0076],[.1083,.0122],[.1083,.0076],[.1095,.0169],[.111,.0066],[.1124,.0066],[.1137,.0066],[.115,.0066],[.1158,.0001],[.1179,.0039],[.1193,.0029],[.1213,.0169],[.121,.0057],[.1229,.0066],[.1253,.0141],[.1251,.0057],[.1272,.0132],[.1281,.0048],[.1296,.0085],[.1312,.015],[.1311,.0066],[.1328,.0178],[.1325,.0113],[.1336,.0057],[.1349,.0187],[.1351,.0094],[.1356,.016],[.1378,.015],[.1369,.0094],[.1392,.0197],[.1406,.015],[.1406,.0076],[.1429,.0057],[.1442,.0048],[.1469,.0132],[.1482,.0169],[.1512,.0132],[.1518,.0085],[.1531,.0206],[.1553,.016],[.155,.0057],[.1572,.0197],[.1572,.0132],[.1585,.0225],[.1591,.015],[.1614,.0234],[.162,.015],[.1627,.0243],[.1642,.0243],[.1639,.015],[.1649,.0178],[.1661,.0206],[.1668,.015],[.1681,.0206],[.1695,.0215],[.172,.0243],[.1604,.0094],[.1578,.0094],[.1598,.0178],[.1558,.0122],[.165,.0122],
[.1025,.0105],[.103,.003],[.1045,.0085],[.1075,.0095],[.1085,.0035],[.1102,.0105],[.1118,.003],[.113,.0035],[.1145,.0025],[.1165,.0045],[.1172,-.0005],[.1186,.006],[.12,.008],[.122,.0105],[.1238,.0095],[.1245,.0025],[.126,.0105],[.1268,.004],[.1288,.0115],[.1302,.0045],[.132,.0105],[.134,.0125],[.1345,.0035],[.1362,.0135],[.1385,.0105],[.14,.0115],[.1412,.004],[.1475,.007],[.151,.0055],[.1525,.0125],[.1538,.0115],[.1545,.0165],[.156,.0085],[.1565,.017],[.158,.0065],[.1595,.0105],[.1605,.0195],[.1612,.0135],[.1618,.0205],[.163,.0175],[.1635,.0105],[.1645,.0205],[.1655,.0165],[.166,.011],[.1672,.0195],[.1678,.0135],[.169,.0165]
];
const q2Yscr = [
[.096,-.0096],[.1022,-.0073],[.1022,-.0166],[.1035,-.012],[.1043,-.0101],[.1054,-.0092],[.106,-.0101],[.1083,-.0077],[.1086,-.0166],[.1095,.0011],[.111,-.0077],[.1124,-.0092],[.1134,-.0148],[.115,-.0101],[.116,-.0148],[.1179,-.0129],[.1193,-.012],[.1213,-.0008],[.1209,-.012],[.1229,-.0101],[.1253,-.0008],[.1251,-.0101],[.1266,-.0157],[.1272,-.0017],[.1281,-.0138],[.1296,-.0073],[.1312,-.0036],[.1313,-.0176],[.1332,-.012],[.1348,-.0073],[.1358,-.0176],[.1366,-.0055],[.1378,-.0008],[.1392,.0048],[.1391,-.0148],[.1406,-.0017],[.1406,-.0101],[.1429,-.0101],[.1442,-.0101],[.1469,-.0055],[.1482,.0039],[.1482,-.012],[.1512,-.0017],[.1521,-.0055],[.1531,.0048],[.1515,-.0166],[.1541,-.0176],[.1553,-.0017],[.155,-.0092],[.1566,-.0166],[.1578,-.0092],[.1572,.0029],[.1585,-.0204],[.1601,-.0092],[.162,-.0008],[.1623,-.0073],[.1642,-.0017],[.1649,.0011],[.1661,.002],[.1668,-.0045],[.1681,.0048],[.1695,.0066],[.172,.0085],[.1608,.0076],[.1591,.0011],[.1627,.0076],[.1646,-.0073],
[.1025,-.012],[.103,-.0175],[.104,-.0145],[.1048,-.0165],[.1065,-.0125],[.1078,-.014],[.1095,-.012],[.11,-.0165],[.1118,-.012],[.1128,-.016],[.1145,-.015],[.1168,-.0155],[.1175,-.0175],[.1185,-.0155],[.12,-.015],[.1218,-.0155],[.1222,-.0065],[.124,-.0155],[.1245,-.0075],[.126,-.013],[.1275,-.0075],[.1288,-.016],[.1305,-.016],[.1318,-.0105],[.1325,-.0135],[.134,-.0105],[.134,-.0165],[.1345,-.0025],[.1372,-.013],[.138,-.0075],[.1385,-.0165],[.14,-.0045],[.1412,-.0155],[.152,-.0105],[.1528,-.0145],[.1538,-.0075],[.1545,-.012],[.1555,-.0185],[.156,-.014],[.1565,-.005],[.158,-.0155],[.1588,-.0115],[.1595,-.0045],[.1605,-.016],[.161,-.013],[.1615,-.0035],[.1625,-.0115],[.163,-.0025],[.1635,-.0115],[.1645,-.0085],[.1655,-.0025],[.166,-.0075],[.1675,-.002],[.1685,.0005],[.169,.002]
];
const modelR2 = [[.258,.825]];
const modelQ2 = [[.258,.825]];

/* ---------- rendering ---------- */
const SVGNS = 'http://www.w3.org/2000/svg';
const chartsRoot = document.getElementById('charts');

function makeNode(tag, attrs, parent) {
  const n = document.createElementNS(SVGNS, tag);
  for (const k in attrs) n.setAttribute(k, attrs[k]);
  parent.appendChild(n);
  return n;
}

function expandRows(rows) {
  const out = [];
  rows.forEach(r => { for (let i = 1; i < r.length; i++) out.push([r[0], r[i]]); });
  return out;
}

function drawPanel(p) {
  const g = makeNode('g', {}, chartsRoot);
  
  
  const xMin = parseFloat(p.xTicks[0]), xMax = parseFloat(p.xTicks[p.xTicks.length - 1]);
  const yMin = parseFloat(p.yTicks[0]), yMax = parseFloat(p.yTicks[p.yTicks.length - 1]);
  const sx = v => p.left + (v - xMin) / (xMax - xMin) * (p.right - p.left);
  const sy = v => p.bottom - (v - yMin) / (yMax - yMin) * (p.bottom - p.top);
  const stepX = (p.right - p.left) / (p.xTicks.length - 1);
  const stepY = (p.bottom - p.top) / (p.yTicks.length - 1);

  p.xTicks.forEach((label, i) => {
    const x = p.left + stepX * i;
    if (i > 0) {
      const gl = makeNode('line', {x1: x, x2: x, y1: p.top + 12, y2: p.bottom, stroke: '#c2d2bf', 'stroke-width': 3, 'stroke-dasharray': '9 10'}, g);
      
      
    }
  });
  p.yTicks.forEach((label, i) => {
    const y = p.bottom - stepY * i;
    if (i > 0) {
      const gl = makeNode('line', {x1: p.left + 8, x2: p.right, y1: y, y2: y, stroke: '#c2d2bf', 'stroke-width': 3, 'stroke-dasharray': '9 10'}, g);
      
      
    }
  });

  const ax = makeNode('path', {d: 'M' + p.left + ' ' + p.top + 'V' + p.bottom + 'H' + p.right, fill: 'none', stroke: '#1c1c1c', 'stroke-width': 4}, g);
  
  

  let minor = '';
  for (let i = 0; i < p.xTicks.length - 1; i++) for (let j = 1; j < 10; j++) {
    const x = p.left + stepX * (i + j / 10);
    minor += 'M' + x.toFixed(1) + ' ' + p.bottom + 'v13';
  }
  for (let i = 0; i < p.yTicks.length - 1; i++) for (let j = 1; j < 10; j++) {
    const y = p.bottom - stepY * (i + j / 10);
    minor += 'M' + p.left + ' ' + y.toFixed(1) + 'h-13';
  }
  const mt = makeNode('path', {d: minor, stroke: '#222', 'stroke-width': 3.5, fill: 'none'}, g);
  
  

  p.xTicks.forEach((label, i) => {
    const x = p.left + stepX * i;
    const t = makeNode('line', {x1: x, x2: x, y1: p.bottom, y2: p.bottom + 25, stroke: '#1c1c1c', 'stroke-width': 3.5}, g);
    
    
    const tx = makeNode('text', {x: x - 3, y: p.bottom + 57, 'text-anchor': 'middle', 'font-size': 34, fill: '#2c2c34'}, g);
    
    
    tx.textContent = label;
  });
  p.yTicks.forEach((label, i) => {
    const y = p.bottom - stepY * i;
    const t = makeNode('line', {x1: p.left, x2: p.left - 25, y1: y, y2: y, stroke: '#1c1c1c', 'stroke-width': 3.5}, g);
    
    
    const tx = makeNode('text', {x: p.left - 29, y: y + 12, 'text-anchor': 'end', 'font-size': 34, fill: '#2c2c34'}, g);
    
    
    tx.textContent = label;
  });

  (p.refs || []).forEach(r => {
    const attrs = {stroke: r.color || '#3a3a3a', 'stroke-width': r.width || 4};
    if (r.dash) attrs['stroke-dasharray'] = r.dash;
    attrs.x1 = r.x1 !== undefined ? sx(r.x1) : p.left + (r.inset || 0);
    attrs.x2 = r.x2 !== undefined ? sx(r.x2) : p.right;
    attrs.y1 = r.y1 !== undefined ? sy(r.y1) : p.top;
    attrs.y2 = r.y2 !== undefined ? sy(r.y2) : p.bottom;
    const ln = makeNode('line', attrs, g);
    
    
  });

  p.series.forEach(s => {
    const sg = makeNode('g', {fill: s.fill, stroke: '#0a0a0a', 'stroke-width': 3.2}, g);
    
    
    s.data.forEach(d => {
      const c = makeNode('circle', {cx: sx(d[0]).toFixed(1), cy: sy(d[1]).toFixed(1), r: 9.8}, sg);
      
      
    });
  });
}

drawPanel({
  left: 154, right: 1723, top: 217, bottom: 1680, xTicks: xTicksA, yTicks: yTicksA,
  refs: [{name: 'identity-line', width: 3, color: '#444', x1: parseFloat(xTicksA[0]), x2: parseFloat(xTicksA[8]), y1: parseFloat(yTicksA[0]), y2: parseFloat(yTicksA[8])}],
  series: [
    {name: 'training-series-a', pointName: 'training-point', fill: '#ffff00', data: trainingA.concat(expandRows(trainingABand))},
    {name: 'prediction-series-a', pointName: 'prediction-point', fill: '#0000ee', data: predictionA}
  ]
});
drawPanel({
  left: 2049, right: 3635, top: 219, bottom: 1698, xTicks: xTicksB, yTicks: yTicksB,
  refs: [{name: 'zero-residual-line', color: '#33334a', y1: 0, y2: 0}],
  series: [
    {name: 'training-series-b', pointName: 'training-point', fill: '#ffff00', data: trainingB.concat(expandRows(trainingBCloud))},
    {name: 'prediction-series-b', pointName: 'prediction-point', fill: '#0000ee', data: predictionB}
  ]
});
drawPanel({
  left: 150, right: 1702, top: 2244, bottom: 3693, xTicks: xTicksC, yTicks: yTicksC,
  refs: [
    {name: 'zero-residual-line', width: 3.5, y1: 0, y2: 0},
    {name: 'upper-residual-limit', width: 3.5, y1: stdLimits[0], y2: stdLimits[0], dash: '55 16', inset: 72},
    {name: 'lower-residual-limit', width: 3.5, y1: stdLimits[1], y2: stdLimits[1], dash: '55 16', inset: 72},
    {name: 'hat-critical-line', width: 3.5, x1: hatLimit[0], x2: hatLimit[0]}
  ],
  series: [
    {name: 'training-series-c', pointName: 'training-point', fill: '#ffff00', data: trainingC.concat(expandRows(trainingCColumns))},
    {name: 'prediction-series-c', pointName: 'prediction-point', fill: '#0000ee', data: predictionC}
  ]
});
drawPanel({
  left: 2007, right: 3630, top: 2175, bottom: 3693, xTicks: xTicksD, yTicks: yTicksD,
  series: [
    {name: 'r2-yscr-series', pointName: 'r2-yscr-point', fill: '#ffff00', data: r2Yscr},
    {name: 'q2-yscr-series', pointName: 'q2-yscr-point', fill: '#ff0000', data: q2Yscr},
    {name: 'model-r2-series', pointName: 'model-r2-point', fill: '#00ffff', data: modelR2},
    {name: 'model-q2-series', pointName: 'model-q2-point', fill: '#0000ee', data: modelQ2}
  ]
});
</script>
</body>
</html>
